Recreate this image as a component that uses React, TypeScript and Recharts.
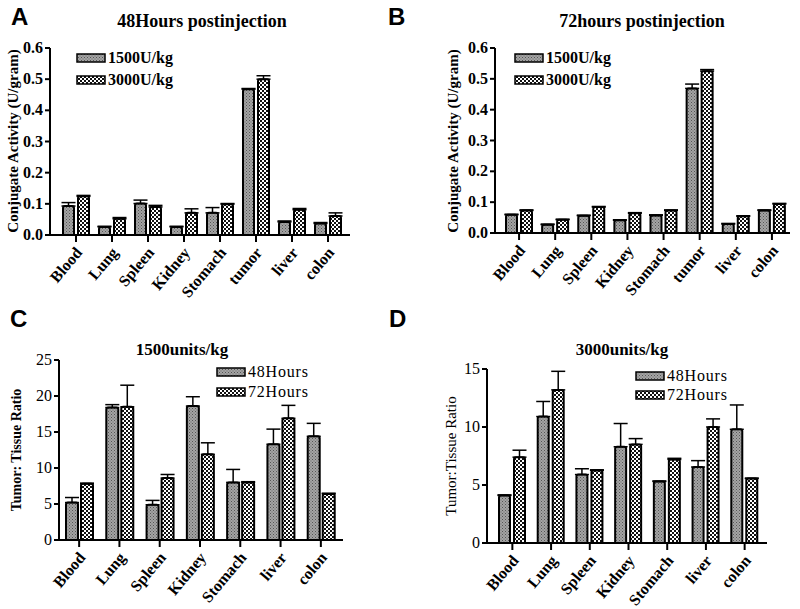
import React from 'react'
import { BarChart, Bar, XAxis, YAxis, ErrorBar } from 'recharts'

// organ categories
const organsAB = ['Blood', 'Lung', 'Spleen', 'Kidney', 'Stomach', 'tumor', 'liver', 'colon']
const organsCD = ['Blood', 'Lung', 'Spleen', 'Kidney', 'Stomach', 'liver', 'colon']

// A: 48 hours postinjection, conjugate activity (U/gram)
const a1500 = [0.093, 0.026, 0.101, 0.026, 0.071, 0.468, 0.042, 0.037]
const a1500Err = [0.011, 0.002, 0.011, 0.002, 0.017, 0.002, 0.003, 0.003]
const a3000 = [0.124, 0.052, 0.09, 0.071, 0.099, 0.5, 0.081, 0.061]
const a3000Err = [0.003, 0.004, 0.005, 0.013, 0.002, 0.011, 0.004, 0.01]

// B: 72 hours postinjection
const b1500 = [0.059, 0.027, 0.056, 0.041, 0.057, 0.469, 0.029, 0.073]
const b1500Err = [0.002, 0.002, 0.002, 0.002, 0.002, 0.014, 0.002, 0.002]
const b3000 = [0.073, 0.043, 0.084, 0.064, 0.073, 0.525, 0.054, 0.094]
const b3000Err = [0.002, 0.002, 0.002, 0.002, 0.002, 0.005, 0.002, 0.002]

// C: 1500 units/kg, tumor:tissue ratio
const c48 = [5.2, 18.4, 4.9, 18.6, 8.0, 13.3, 14.4]
const c48Err = [0.7, 0.4, 0.6, 1.3, 1.8, 2.1, 1.8]
const c72 = [7.8, 18.5, 8.6, 11.9, 8.0, 16.9, 6.4]
const c72Err = [0.1, 3.0, 0.5, 1.6, 0.1, 1.8, 0.1]

// D: 3000 units/kg
const d48 = [4.1, 10.9, 5.9, 8.3, 5.3, 6.55, 9.8]
const d48Err = [0.05, 1.3, 0.5, 2.0, 0.05, 0.55, 2.1]
const d72 = [7.4, 13.2, 6.26, 8.5, 7.2, 10.0, 5.55]
const d72Err = [0.6, 1.6, 0.05, 0.5, 0.1, 0.7, 0.05]

const ticksAB = [0, 0.1, 0.2, 0.3, 0.4, 0.5, 0.6]
const ticksC = [0, 5, 10, 15, 20, 25]
const ticksD = [0, 5, 10, 15]

const doseNames = ['1500U/kg', '3000U/kg']
const timeNames = ['48Hours', '72Hours']

const serif = '"Liberation Serif", "Times New Roman", serif'
const sans = '"Liberation Sans", Arial, sans-serif'

const buildRows = (cats: string[], v1: number[], e1: number[], v2: number[], e2: number[]) =>
  cats.map((name, i) => ({ name, s1: v1[i], e1: [0, e1[i]], s2: v2[i], e2: [0, e2[i]] }))

const XTick = (props: any) => {
  const { x, y, payload } = props
  const ax = x + 7
  const ay = y + 9
  return (
    <text
      x={ax}
      y={ay}
      transform={`rotate(-50, ${ax}, ${ay})`}
      textAnchor="end"
      style={{ fontFamily: serif, fontWeight: 'bold', fontSize: 16 }}
      fill="#000"
    >
      {payload.value}
    </text>
  )
}

const YTick = (props: any) => {
  const { x, y, payload, bold, digits } = props
  return (
    <text
      x={x}
      y={y}
      dy={5}
      textAnchor="end"
      style={{ fontFamily: serif, fontWeight: bold ? 'bold' : 'normal', fontSize: 16 }}
      fill="#000"
    >
      {Number(payload.value).toFixed(digits)}
    </text>
  )
}

interface PanelProps {
  left: number
  top: number
  width: number
  height: number
  mTop: number
  mRight: number
  yWidth: number
  xHeight: number
  rows: any[]
  max: number
  ticks: number[]
  digits: number
  barSize: number
  barGap: number
  padL: number
  padR: number
  tickBold: boolean
}

const Panel: React.FC<PanelProps> = (p) => (
  <div style={{ position: 'absolute', left: p.left, top: p.top }}>
    <BarChart
      width={p.width}
      height={p.height}
      data={p.rows}
      margin={{ top: p.mTop, right: p.mRight, left: 0, bottom: 0 }}
      barSize={p.barSize}
      barGap={p.barGap}
    >
      <XAxis
        dataKey="name"
        height={p.xHeight}
        interval={0}
        padding={{ left: p.padL, right: p.padR }}
        axisLine={{ stroke: '#000', strokeWidth: 2 }}
        tickLine={{ stroke: '#000', strokeWidth: 2 }}
        tickSize={7}
        tickMargin={2}
        tick={<XTick />}
      />
      <YAxis
        width={p.yWidth}
        domain={[0, p.max]}
        ticks={p.ticks}
        interval={0}
        axisLine={{ stroke: '#000', strokeWidth: 2 }}
        tickLine={{ stroke: '#000', strokeWidth: 2 }}
        tickSize={5}
        tickMargin={2}
        tick={<YTick bold={p.tickBold} digits={p.digits} />}
      />
      <Bar dataKey="s1" fill="url(#hatch)" stroke="#000" strokeWidth={2} radius={[2, 2, 0, 0]} isAnimationActive={false}>
        <ErrorBar dataKey="e1" width={7} stroke="#000" strokeWidth={1.5} />
      </Bar>
      <Bar dataKey="s2" fill="url(#checker)" stroke="#000" strokeWidth={2} radius={[2, 2, 0, 0]} isAnimationActive={false}>
        <ErrorBar dataKey="e2" width={7} stroke="#000" strokeWidth={1.5} />
      </Bar>
    </BarChart>
  </div>
)

const Legend2 = ({ x, y1, y2, names, size, bold, spacing }: any) => (
  <g>
    {names.map((n: string, i: number) => {
      const base = i === 0 ? y1 : y2
      return (
        <g key={n}>
          <rect x={x} y={base - 9} width={28} height={8} fill={i === 0 ? 'url(#hatch)' : 'url(#checker)'} stroke="#000" strokeWidth={1.5} />
          <text
            x={x + 31}
            y={base}
            style={{ fontFamily: serif, fontWeight: bold ? 'bold' : 'normal', fontSize: size, letterSpacing: spacing || 0 }}
          >
            {n}
          </text>
        </g>
      )
    })}
  </g>
)

const YLabel = ({ x, y, text, size, bold }: any) => (
  <text
    x={x}
    y={y}
    transform={`rotate(-90, ${x}, ${y})`}
    textAnchor="middle"
    dominantBaseline="central"
    style={{ fontFamily: serif, fontWeight: bold ? 'bold' : 'normal', fontSize: size }}
  >
    {text}
  </text>
)

const Title = ({ x, y, text, size }: any) => (
  <text x={x} y={y} textAnchor="middle" style={{ fontFamily: serif, fontWeight: 'bold', fontSize: size }}>
    {text}
  </text>
)

const Letter = ({ x, y, text }: any) => (
  <text x={x} y={y} style={{ fontFamily: sans, fontWeight: 'bold', fontSize: 24 }}>
    {text}
  </text>
)

export default function App() {
  const rowsA = buildRows(organsAB, a1500, a1500Err, a3000, a3000Err)
  const rowsB = buildRows(organsAB, b1500, b1500Err, b3000, b3000Err)
  const rowsC = buildRows(organsCD, c48, c48Err, c72, c72Err)
  const rowsD = buildRows(organsCD, d48, d48Err, d72, d72Err)

  return (
    <div style={{ position: 'absolute', left: 0, top: 0, width: 800, height: 609, background: '#fff', overflow: 'hidden' }}>
      <svg width={0} height={0} style={{ position: 'absolute' }}>
        <defs>
          <pattern id="hatch" width={3} height={3} patternUnits="userSpaceOnUse">
            <rect width={3} height={3} fill="#a4a4a4" />
            <rect x={0} y={0} width={1} height={1} fill="#555" />
            <rect x={1.5} y={1.5} width={1} height={1} fill="#666" />
          </pattern>
          <pattern id="checker" width={4} height={4} patternUnits="userSpaceOnUse">
            <rect width={4} height={4} fill="#fff" />
            <rect x={0} y={0} width={2} height={2} fill="#111" />
            <rect x={2} y={2} width={2} height={2} fill="#111" />
          </pattern>
        </defs>
      </svg>

      <Panel left={0} top={0} width={360} height={300} mTop={48} mRight={10} yWidth={50} xHeight={65}
        rows={rowsA} max={0.6} ticks={ticksAB} digits={1} barSize={11} barGap={4} padL={8} padR={4} tickBold />
      <Panel left={400} top={0} width={400} height={300} mTop={48} mRight={10} yWidth={95} xHeight={67}
        rows={rowsB} max={0.6} ticks={ticksAB} digits={1} barSize={11} barGap={4} padL={6} padR={0} tickBold />
      <Panel left={0} top={300} width={360} height={309} mTop={60} mRight={17} yWidth={59} xHeight={69}
        rows={rowsC} max={25} ticks={ticksC} digits={0} barSize={12} barGap={3} padL={0} padR={2} tickBold={false} />
      <Panel left={400} top={300} width={380} height={309} mTop={69} mRight={13} yWidth={87} xHeight={66}
        rows={rowsD} max={15} ticks={ticksD} digits={0} barSize={11} barGap={4} padL={6} padR={3} tickBold={false} />

      <svg width={800} height={609} style={{ position: 'absolute', left: 0, top: 0, pointerEvents: 'none' }}>
        <Letter x={11} y={25} text="A" />
        <Letter x={388} y={25} text="B" />
        <Letter x={10} y={327} text="C" />
        <Letter x={389} y={327} text="D" />

        <Title x={202} y={27} size={18} text="48Hours postinjection" />
        <Title x={642} y={27} size={18} text="72hours postinjection" />
        <Title x={182} y={355} size={17} text="1500units/kg" />
        <Title x={622} y={355} size={17} text="3000units/kg" />

        <YLabel x={13} y={141} text="Conjugate Activity (U/gram)" size={15} bold />
        <YLabel x={453} y={141} text="Conjugate Activity (U/gram)" size={15} bold />
        <YLabel x={16} y={450} text="Tumor: Tissue Ratio" size={14} bold />
        <YLabel x={451} y={456} text="Tumor:Tissue Ratio" size={15} bold={false} />

        <Legend2 x={77} y1={63} y2={85} names={doseNames} size={16} bold />
        <Legend2 x={515} y1={63} y2={85} names={doseNames} size={16} bold />
        <Legend2 x={217} y1={377} y2={397} names={timeNames} size={16} bold={false} spacing={0.8} />
        <Legend2 x={636} y1={381} y2={400} names={timeNames} size={16} bold={false} spacing={0.8} />
      </svg>
    </div>
  )
}
